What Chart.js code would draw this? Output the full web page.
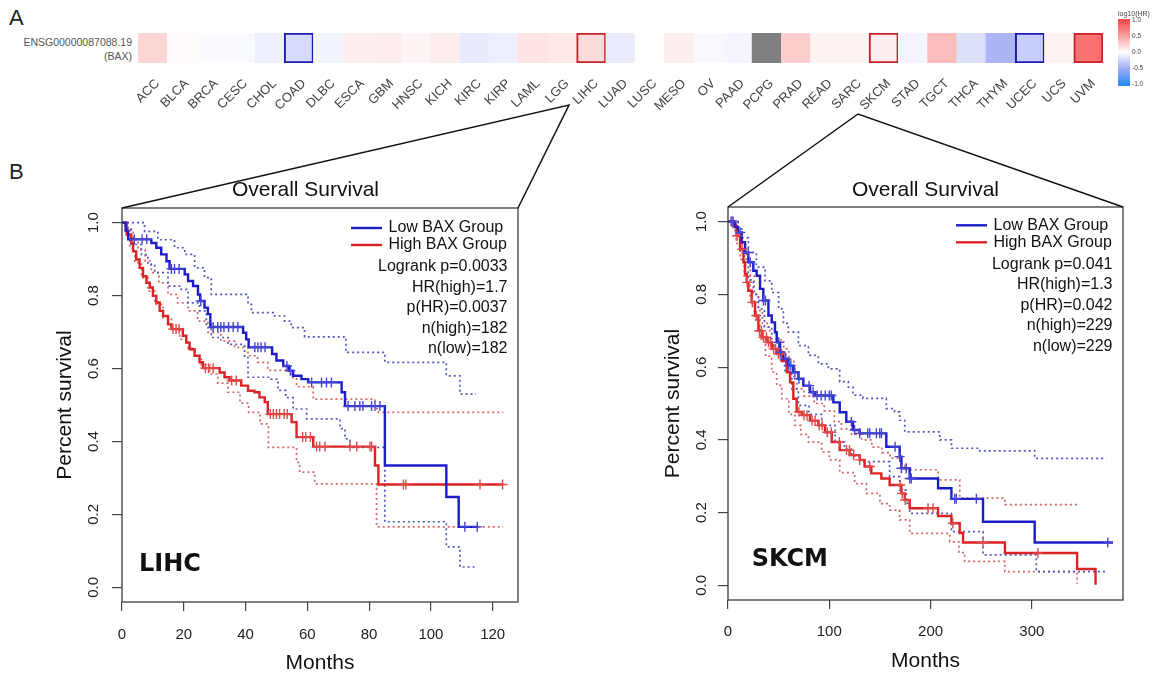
<!DOCTYPE html>
<html>
<head>
<meta charset="utf-8">
<script src="https://cdn.jsdelivr.net/npm/chart.js@4.4.1/dist/chart.umd.min.js"></script>
<style>
  html, body { margin: 0; padding: 0; background: #fff; }
  body { width: 1158px; height: 676px; position: relative; overflow: hidden; font-family: "Liberation Sans", Arial, sans-serif; }
  canvas { position: absolute; }
  .panel { position: absolute; font-size: 22px; color: #222; line-height: 1; }
  #rowlab { position: absolute; left: 0; width: 132px; top: 35px; font-size: 10.5px; line-height: 14px; color: #555; text-align: right; }
</style>
</head>
<body>
<div class="panel" style="left:9px;top:7px">A</div>
<div class="panel" style="left:9px;top:161px">B</div>
<div id="rowlab">ENSG00000087088.19<br>(BAX)</div>
<canvas id="heat" width="1118" height="125" style="left:0;top:0"></canvas>
<canvas id="cbar" width="53" height="100" style="left:1105px;top:0"></canvas>
<canvas id="lihc" width="500" height="506" style="left:30px;top:170px"></canvas>
<canvas id="skcm" width="500" height="506" style="left:640px;top:170px"></canvas>
<canvas id="links" width="1158" height="676" style="left:0;top:0;pointer-events:none"></canvas>
<script>
// ---- panel A: log10(HR) per cancer type
const cancers = ['ACC','BLCA','BRCA','CESC','CHOL','COAD','DLBC','ESCA','GBM','HNSC','KICH','KIRC','KIRP','LAML','LGG','LIHC','LUAD','LUSC','MESO','OV','PAAD','PCPG','PRAD','READ','SARC','SKCM','STAD','TGCT','THCA','THYM','UCEC','UCS','UVM'];
const log10HR = [0.23, 0.025, -0.03, -0.03, -0.09, -0.22, -0.07, 0.085, 0.1, 0.05, 0.1, -0.13, -0.1, 0.15, 0.13, 0.19, -0.12, 0, 0.085, -0.04, -0.055, null, 0.26, 0.06, 0.06, 0.085, -0.06, 0.36, -0.19, -0.45, -0.31, 0.06, 0.79];
const boxedCancers = ['COAD', 'LIHC', 'SKCM', 'UCEC', 'UVM'];
const cbarTicks = [1, 0.5, 0, -0.5, -1];

// ---- panel B: Kaplan-Meier curves, [months, survival]
const lihcLow = [[0,1],[1.2,0.978],[2.0,0.954],[9.5,0.944],[11.1,0.931],[12.7,0.913],[14.4,0.894],[15.4,0.873],[20.3,0.858],[21.4,0.840],[23.0,0.826],[24.6,0.803],[25.3,0.785],[26.7,0.767],[27.8,0.749],[28.6,0.714],[39.2,0.698],[40.2,0.680],[41.0,0.658],[48.6,0.640],[50.0,0.622],[52.2,0.607],[54.0,0.594],[55.4,0.580],[58.1,0.571],[60.3,0.562],[71.1,0.535],[72.2,0.497],[85.1,0.334],[105.0,0.248],[109.0,0.166],[115.3,0.166]];
const lihcLowUpper = [[0,1],[7.3,0.976],[11.6,0.953],[17,0.931],[20.3,0.913],[23.5,0.876],[26.7,0.849],[28.9,0.803],[40.8,0.776],[41.9,0.753],[49.4,0.744],[52.6,0.73],[54.8,0.712],[59.1,0.687],[72.5,0.644],[85.1,0.617],[105,0.58],[109.4,0.53],[114.6,0.53]];
const lihcLowLower = [[0,1],[1,0.985],[3,0.94],[6.3,0.912],[8.4,0.885],[10.6,0.863],[14.9,0.826],[19.2,0.817],[21.4,0.78],[25.1,0.758],[27.3,0.721],[28.9,0.685],[34.3,0.666],[39.7,0.630],[40.8,0.576],[48.3,0.571],[50.5,0.54],[53,0.52],[55.4,0.489],[59.8,0.462],[70.6,0.435],[72.2,0.407],[73.8,0.384],[85.1,0.18],[105,0.111],[109.4,0.056],[114.2,0.056]];
const lihcLowCensored = [4, 6.5, 8, 16, 17, 18.5, 25.5, 29.5, 31, 32, 33, 34.5, 36, 37.5, 43, 44, 45, 46.3, 53.4, 54.5, 61.4, 64.6, 66.2, 67.8, 73.2, 75.4, 77, 78, 80.8, 81.9, 83.5, 111, 115];

const lihcHigh = [[0,1],[1.5,0.967],[3.0,0.944],[3.6,0.921],[4.6,0.899],[5.7,0.876],[6.8,0.853],[7.9,0.835],[9.0,0.822],[10.0,0.799],[11.1,0.781],[12.2,0.758],[13.3,0.744],[14.9,0.721],[16.0,0.708],[19.7,0.690],[20.8,0.671],[21.9,0.653],[23.5,0.635],[25.1,0.617],[26.2,0.601],[31.6,0.589],[33.2,0.576],[34.8,0.567],[38.6,0.553],[40.8,0.539],[42.9,0.535],[44.5,0.521],[46.2,0.508],[47.2,0.475],[54.9,0.453],[56.5,0.412],[61.9,0.386],[81.9,0.334],[83.0,0.282],[123.4,0.282]];
const lihcHighUpper = [[0,1],[2,0.98],[3.6,0.953],[5.2,0.926],[7.5,0.895],[9.5,0.863],[12,0.835],[14.9,0.803],[18,0.78],[21.4,0.758],[24.5,0.73],[27.8,0.699],[32,0.675],[36.4,0.658],[40.8,0.635],[43.9,0.617],[47.2,0.595],[54.9,0.575],[56.5,0.55],[61.9,0.516],[81.9,0.49],[83,0.48],[123.4,0.48]];
const lihcHighLower = [[0,1],[1,0.98],[2.5,0.93],[4.1,0.89],[6.3,0.849],[8.4,0.812],[10.6,0.776],[13.3,0.739],[16,0.708],[18.7,0.68],[21.4,0.655],[23.5,0.635],[25.7,0.61],[28.4,0.585],[31,0.56],[34.3,0.535],[38.2,0.505],[41,0.48],[44.7,0.448],[47.4,0.384],[56.5,0.343],[57.5,0.316],[62.4,0.284],[82.4,0.166],[123.4,0.166]];
const lihcHighCensored = [16.5, 17.5, 18.5, 27, 28, 29.5, 35.5, 37, 48, 49, 50, 51, 52.5, 53.5, 58.5, 59.5, 61, 63, 64, 65.7, 73.8, 76, 80.3, 80.8, 91.1, 91.9, 115.9, 123.2];

const skcmLow = [[0,1],[7,0.985],[10,0.97],[13.5,0.943],[16.8,0.915],[20.1,0.888],[25,0.865],[28.3,0.851],[31.6,0.815],[34.9,0.783],[39.9,0.742],[43.2,0.723],[46.4,0.696],[48.1,0.668],[51.4,0.641],[54.7,0.623],[59.6,0.604],[64.5,0.586],[69.5,0.568],[74.4,0.549],[81,0.531],[85.9,0.522],[104,0.503],[110.3,0.476],[116.8,0.45],[123.4,0.427],[130,0.418],[156.3,0.381],[169.5,0.354],[171.2,0.322],[179.4,0.294],[207.4,0.267],[220.6,0.238],[251.8,0.175],[302.8,0.118],[380,0.118]];
const skcmLowUpper = [[0,1],[10,0.98],[13.5,0.955],[20.1,0.915],[28,0.875],[36.6,0.837],[43.2,0.805],[50,0.76],[54.7,0.72],[59.6,0.696],[69.5,0.659],[79.4,0.632],[89.2,0.609],[99.1,0.595],[110.3,0.56],[118.8,0.545],[123.4,0.523],[133.3,0.514],[156.3,0.486],[164.5,0.477],[169.5,0.454],[174.5,0.422],[209,0.40],[220.6,0.377],[248.5,0.37],[302.8,0.349],[373.5,0.349]];
const skcmLowLower = [[0,1],[8,0.97],[12,0.92],[16,0.88],[20,0.84],[25,0.8],[30,0.76],[36,0.71],[43.2,0.659],[50,0.62],[56.3,0.586],[63,0.54],[69.5,0.495],[80,0.47],[92.5,0.44],[105.7,0.394],[115,0.375],[122,0.355],[130,0.34],[159.6,0.299],[169.5,0.262],[176,0.226],[179.4,0.198],[220.6,0.148],[251.8,0.084],[304.4,0.038],[373.5,0.038]];
const skcmLowCensored = [3, 5, 12, 20, 22, 35, 37, 50, 52, 57, 60, 62, 66, 70, 80, 84, 88, 92, 96, 100, 102, 121.8, 125, 130, 138, 140, 146.5, 149.8, 151.5, 165, 169.5, 171.2, 176, 179.4, 181, 223.8, 225.4, 245.2, 375];

const skcmHigh = [[0,1],[5.3,0.988],[8.6,0.961],[11.9,0.924],[15.2,0.888],[16.8,0.856],[18.5,0.833],[20.1,0.810],[23.4,0.778],[26.7,0.742],[30,0.70],[33.3,0.682],[38.3,0.668],[43.2,0.650],[48.1,0.636],[53.1,0.617],[58,0.586],[61.3,0.558],[64.5,0.513],[67.8,0.477],[72.8,0.468],[81,0.453],[89.2,0.44],[95.8,0.421],[102.4,0.394],[110.3,0.372],[120.1,0.358],[130,0.345],[134.9,0.327],[141.5,0.308],[151.4,0.294],[159.6,0.276],[171.2,0.253],[174.5,0.235],[179.4,0.212],[207.4,0.191],[220.6,0.171],[228.8,0.144],[232.1,0.118],[273.4,0.089],[344.7,0.045],[362.9,0.002]];
const skcmHighUpper = [[0,1],[6,0.99],[10,0.97],[14,0.935],[18,0.89],[22,0.85],[26,0.8],[30,0.755],[34,0.72],[40,0.7],[48,0.675],[55,0.65],[60,0.62],[65,0.57],[68,0.54],[75,0.52],[85,0.5],[95,0.48],[105,0.45],[112,0.43],[122,0.415],[132,0.4],[142,0.38],[152,0.365],[160,0.35],[171.2,0.33],[174.5,0.318],[207.4,0.29],[228.8,0.24],[273.4,0.222],[345.6,0.222]];
const skcmHighLower = [[0,1],[5,0.975],[8,0.94],[11.9,0.896],[16,0.85],[21.8,0.787],[26,0.73],[31.6,0.677],[37,0.63],[43.2,0.586],[48,0.55],[53.1,0.513],[60,0.47],[66.2,0.44],[72,0.415],[79.4,0.394],[92.5,0.367],[100,0.345],[110.3,0.31],[125,0.28],[136.6,0.253],[150,0.225],[159.6,0.207],[169.5,0.18],[179.4,0.143],[218.9,0.12],[228,0.09],[233.7,0.066],[273.4,0.038],[344.7,0.005]];
const skcmHighCensored = [4, 9, 14, 19, 24, 28, 31, 33, 35, 38, 40, 42, 45, 47, 50, 53, 70, 75, 78, 83, 86, 90, 93, 98, 102, 110, 117, 120, 124, 130, 140, 170, 172, 175, 197.5, 202.4, 222, 251.8, 306];

const survTicks = [0, 0.2, 0.4, 0.6, 0.8, 1];
const lihcMonthTicks = [0, 20, 40, 60, 80, 100, 120];
const skcmMonthTicks = [0, 100, 200, 300];
const groupNames = ['Low BAX Group', 'High BAX Group'];
const lihcStats = ['Logrank p=0.0033', 'HR(high)=1.7', 'p(HR)=0.0037', 'n(high)=182', 'n(low)=182'];
const skcmStats = ['Logrank p=0.041', 'HR(high)=1.3', 'p(HR)=0.042', 'n(high)=229', 'n(low)=229'];

// ---- styling
Chart.defaults.font.family = '"Liberation Sans", Arial, sans-serif';
const FONT = '"Liberation Sans", Arial, sans-serif';
const colorStops = [[-1, [43, 140, 245]], [-0.5, [163, 174, 245]], [0, [255, 255, 255]], [0.5, [249, 163, 163]], [1, [245, 76, 76]]];
const BLUE = { line: '#1c1cc8', dot: '#5058c0', mark: '#4646d2' };
const RED = { line: '#dc2323', dot: '#d66565', mark: '#e04a4a' };

function hrColor(v) {
  if (v === null) return '#808080';
  v = Math.max(-1, Math.min(1, v));
  for (let i = 1; i < colorStops.length; i++) {
    const [v0, c0] = colorStops[i - 1], [v1, c1] = colorStops[i];
    if (v <= v1) {
      const f = (v - v0) / (v1 - v0);
      const c = c0.map((x, k) => Math.round(x + (c1[k] - x) * f));
      return `rgb(${c[0]},${c[1]},${c[2]})`;
    }
  }
}

// heatmap row
const heat = new Chart(document.getElementById('heat'), {
  type: 'bar',
  data: {
    labels: cancers,
    datasets: [{
      data: cancers.map(() => [0, 1]),
      backgroundColor: log10HR.map(hrColor),
      borderColor: cancers.map((c, i) => boxedCancers.includes(c) ? (log10HR[i] > 0 ? '#c8202a' : '#1c1cae') : 'rgba(0,0,0,0)'),
      borderWidth: cancers.map(c => boxedCancers.includes(c) ? 2 : 0),
      borderSkipped: false,
      barPercentage: 1,
      categoryPercentage: 1
    }]
  },
  options: {
    responsive: false, animation: false, events: [],
    layout: { padding: { left: 138, right: 15, top: 33, bottom: 0 } },
    plugins: { legend: { display: false }, tooltip: { enabled: false } },
    scales: {
      x: {
        grid: { display: false, drawTicks: false }, border: { display: false },
        ticks: { autoSkip: false, minRotation: 45, maxRotation: 45, padding: 13, labelOffset: 5, color: '#444', font: { size: 13 } },
        afterFit: s => { s.height = 62; }
      },
      y: { display: false, min: 0, max: 1 }
    }
  }
});

// colour key
new Chart(document.getElementById('cbar'), {
  type: 'bar',
  data: {
    labels: [''],
    datasets: [{
      data: [[-1.06, 1.05]],
      backgroundColor: ctx => {
        const ch = ctx.chart;
        if (!ch.chartArea) return '#fff';
        const y = ch.scales.y;
        const g = ch.ctx.createLinearGradient(0, y.getPixelForValue(1), 0, y.getPixelForValue(-1));
        colorStops.forEach(([v, c]) => g.addColorStop((1 - v) / 2, `rgb(${c[0]},${c[1]},${c[2]})`));
        return g;
      },
      borderWidth: 0, barPercentage: 1, categoryPercentage: 1
    }]
  },
  options: {
    responsive: false, animation: false, events: [],
    layout: { padding: { left: 13, top: 19, bottom: 14, right: 0 } },
    plugins: { legend: { display: false }, tooltip: { enabled: false } },
    scales: {
      x: { display: false },
      y: {
        position: 'right', min: -1.06, max: 1.05,
        grid: { display: false, drawTicks: false }, border: { display: false },
        afterBuildTicks: s => { s.ticks = cbarTicks.map(v => ({ value: v })); },
        ticks: { padding: 2, color: '#444', font: { size: 6.5 }, callback: v => v.toFixed(1) },
        afterFit: s => { s.width = 28; }
      }
    }
  },
  plugins: [{
    id: 'cbarTitle',
    afterDraw(chart) {
      const { ctx, chartArea: a } = chart;
      ctx.save();
      ctx.fillStyle = '#444';
      ctx.font = '7px ' + FONT;
      ctx.textBaseline = 'alphabetic';
      ctx.fillText('log10(HR)', a.left, a.top - 3);
      ctx.restore();
    }
  }]
});

// KM plots
function stepAt(curve, t) {
  let s = curve[0][1];
  for (const [x, y] of curve) { if (x <= t) s = y; else break; }
  return s;
}
const pts = c => c.map(([x, y]) => ({ x, y }));

const kmNotes = {
  id: 'kmNotes',
  afterDraw(chart, args, o) {
    const { ctx, chartArea: a } = chart;
    ctx.save();
    ctx.strokeStyle = '#3c3c3c'; ctx.lineWidth = 1.3;
    ctx.strokeRect(a.left, a.top, a.right - a.left, a.bottom - a.top);
    ctx.fillStyle = '#111';
    ctx.textBaseline = 'middle';
    ctx.font = '21px ' + FONT;
    ctx.textAlign = 'center';
    ctx.fillText('Overall Survival', (a.left + a.right) / 2 + o.titleDx, a.top + o.titleDy);
    ctx.font = '16px ' + FONT;
    [BLUE, RED].forEach((c, i) => {
      const y = a.top + o.top + i * 17;
      ctx.strokeStyle = c.line; ctx.lineWidth = 2.4;
      ctx.beginPath(); ctx.moveTo(a.right - 167, y); ctx.lineTo(a.right - 136, y); ctx.stroke();
      ctx.textAlign = 'left';
      ctx.fillText(groupNames[i], a.right - 129.5, y);
    });
    ctx.textAlign = 'right';
    o.stats.forEach((s, i) => ctx.fillText(s, a.right - 10.5, a.top + o.top + 39 + i * 20.5));
    ctx.font = 'bold 24px "DejaVu Sans"';
    ctx.textAlign = 'left';
    ctx.fillText(o.panel, a.left + o.panelDx, a.bottom + o.panelDy);
    ctx.restore();
  }
};

function kmChart(id, g) {
  const datasets = [];
  [[g.low, g.lowUp, g.lowLo, g.lowCens, BLUE], [g.high, g.highUp, g.highLo, g.highCens, RED]].forEach(([surv, up, lo, cens, col]) => {
    datasets.push({ data: pts(cens.map(t => [t, stepAt(surv, t)])), showLine: false, pointStyle: 'cross', pointRadius: 5, pointBorderWidth: 1.4, pointBorderColor: col.mark, order: 0 });
    datasets.push({ data: pts(surv), showLine: true, stepped: true, borderColor: col.line, borderWidth: 2.4, pointRadius: 0, order: 1 });
    [up, lo].forEach(c => datasets.push({ data: pts(c), showLine: true, stepped: true, borderColor: col.dot, borderWidth: 1.7, borderDash: [2, 3], pointRadius: 0, order: 2 }));
  });
  const tickFont = { size: 15 };
  const axisGrid = { drawOnChartArea: false, drawTicks: true, color: '#444', lineWidth: 1.2 };
  return new Chart(document.getElementById(id), {
    type: 'scatter',
    data: { datasets },
    options: {
      responsive: false, animation: false, events: [],
      layout: { padding: { left: 0, top: g.padTop, right: g.padRight, bottom: 0 } },
      plugins: { legend: { display: false }, tooltip: { enabled: false }, kmNotes: g.notes },
      scales: {
        x: {
          type: 'linear', min: 0, max: g.xMax,
          grid: { ...axisGrid, tickLength: 9 }, border: { display: false },
          afterBuildTicks: s => { s.ticks = g.xTicks.map(v => ({ value: v })); },
          ticks: { padding: g.xTickPad, color: '#222', font: tickFont },
          title: { display: true, text: 'Months', color: '#111', font: { size: 21 }, padding: { top: 0, bottom: g.xTitlePad } },
          afterFit: s => { s.height = g.xHeight; }
        },
        y: {
          type: 'linear', min: -0.04, max: 1.04,
          grid: { ...axisGrid, tickLength: 10 }, border: { display: false },
          afterBuildTicks: s => { s.ticks = survTicks.map(v => ({ value: v })); },
          ticks: { minRotation: 90, maxRotation: 90, crossAlign: 'center', padding: g.yTickPad, color: '#222', font: tickFont, callback: v => v.toFixed(1) },
          title: { display: true, text: 'Percent survival', color: '#111', font: { size: 21 }, padding: { top: g.yTitlePad, bottom: 0 } },
          afterFit: s => { s.width = g.yWidth; }
        }
      }
    },
    plugins: [kmNotes]
  });
}

const lihcChart = kmChart('lihc', {
  low: lihcLow, lowUp: lihcLowUpper, lowLo: lihcLowLower, lowCens: lihcLowCensored,
  high: lihcHigh, highUp: lihcHighUpper, highLo: lihcHighLower, highCens: lihcHighCensored,
  xMax: 128.2, xTicks: lihcMonthTicks,
  padTop: 38, padRight: 12, yWidth: 92, xHeight: 74,
  xTickPad: 15, xTitlePad: 0.4, yTickPad: 7.5, yTitlePad: 22.4,
  notes: { titleDx: -14.5, titleDy: -18, top: 20, stats: lihcStats, panel: 'LIHC', panelDx: 17, panelDy: -37 }
});
const skcmChart = kmChart('skcm', {
  low: skcmLow, lowUp: skcmLowUpper, lowLo: skcmLowLower, lowCens: skcmLowCensored,
  high: skcmHigh, highUp: skcmHighUpper, highLo: skcmHighLower, highCens: skcmHighCensored,
  xMax: 390, xTicks: skcmMonthTicks,
  padTop: 37, padRight: 17, yWidth: 88, xHeight: 76,
  xTickPad: 14, xTitlePad: 2.4, yTickPad: 5.5, yTitlePad: 20.4,
  notes: { titleDx: 0, titleDy: -16.7, top: 18.3, stats: skcmStats, panel: 'SKCM', panelDx: 23.7, panelDy: -40 }
});

// zoom-in lines from the heatmap labels to the KM boxes
const lc = document.getElementById('links').getContext('2d');
lc.strokeStyle = '#111';
lc.lineWidth = 1.5;
[[lihcChart, 30, 170, 569, 105], [skcmChart, 640, 170, 858, 114]].forEach(([ch, ox, oy, sx, sy]) => {
  const a = ch.chartArea;
  lc.beginPath();
  lc.moveTo(ox + a.left, oy + a.top);
  lc.lineTo(sx, sy);
  lc.lineTo(ox + a.right, oy + a.top);
  lc.stroke();
});
</script>
</body>
</html>
